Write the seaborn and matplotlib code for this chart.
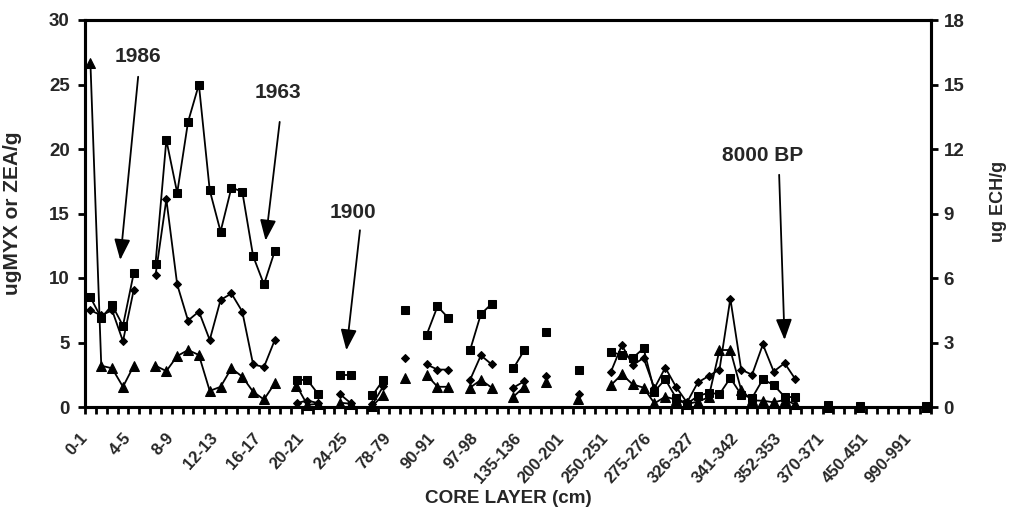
import matplotlib
matplotlib.use('Agg')
import numpy as np
import pandas as pd
import matplotlib.pyplot as plt
import seaborn as sns

nan = np.nan

# core layers (cm), only every 4th layer is labelled on the axis
layer_labels = ['0-1', '4-5', '8-9', '12-13', '16-17', '20-21', '24-25', '78-79',
                '90-91', '97-98', '135-136', '200-201', '250-251', '275-276',
                '326-327', '341-342', '352-353', '370-371', '450-451', '990-991']
n_layers = 78

# ug/g, left axis (squares)
myx = [8.5, 6.9, 7.9, 6.3, 10.4, nan, 11.1, 20.7, 16.6, 22.1,
       25.0, 16.8, 13.6, 17.0, 16.7, 11.7, 9.5, 12.1, nan, 2.1,
       2.1, 1.0, nan, 2.5, 2.5, nan, 0.9, 2.1, nan, 7.5,
       nan, 5.6, 7.8, 6.9, nan, 4.4, 7.2, 8.0, nan, 3.0,
       4.4, nan, 5.8, nan, nan, 2.9, nan, nan, 4.3, 4.0,
       3.8, 4.55, 1.2, 2.15, 0.7, 0.25, 0.85, 1.1, 1.0, 2.25,
       0.95, 0.7, 2.15, 1.7, 0.8, 0.75, nan, nan, 0.15, nan,
       nan, 0.05, nan, nan, nan, nan, nan, 0.05]

# ug/g, left axis (diamonds)
zea = [7.5, 7.1, 7.5, 5.1, 9.1, nan, 10.2, 16.1, 9.5, 6.7,
       7.4, 5.2, 8.3, 8.8, 7.4, 3.3, 3.1, 5.2, nan, 0.3,
       0.5, 0.3, nan, 1.0, 0.3, nan, 0.2, 1.6, nan, 3.8,
       nan, 3.3, 2.9, 2.9, nan, 2.1, 4.0, 3.3, nan, 1.5,
       2.0, nan, 2.4, nan, nan, 1.0, nan, nan, 2.75, 4.8,
       3.25, 3.8, 1.45, 3.05, 1.55, 0.35, 1.9, 2.4, 2.9, 8.4,
       2.9, 2.5, 4.85, 2.75, 3.4, 2.15, nan, nan, 0.0, nan,
       nan, 0.0, nan, nan, nan, nan, nan, 0.0]

# ug/g, right axis (triangles)
ech = [16.0, 1.92, 1.8, 0.94, 1.92, nan, 1.92, 1.67, 2.37, 2.65,
       2.42, 0.75, 0.94, 1.8, 1.41, 0.71, 0.35, 1.1, nan, 1.0,
       0.1, 0.15, nan, 0.2, 0.15, nan, 0.05, 0.56, nan, 1.33,
       nan, 1.49, 0.94, 0.94, nan, 0.9, 1.26, 0.9, nan, 0.48,
       0.94, nan, 1.15, nan, nan, 0.35, nan, nan, 1.02, 1.52,
       1.05, 0.9, 0.17, 0.48, 0.34, 0.14, 0.25, 0.45, 2.65, 2.65,
       0.79, 0.31, 0.29, 0.22, 0.33, 0.12, nan, nan, 0.0, nan,
       nan, 0.0, nan, nan, nan, nan, nan, 0.0]


def to_frame(values):
    # split the series at gaps so each run is drawn as its own line
    s = pd.Series(values, dtype=float)
    df = pd.DataFrame({'pos': np.arange(len(s)), 'value': s, 'seg': s.isna().cumsum()})
    return df.dropna()


sns.set_style('ticks')
plt.rcParams['font.family'] = ['Liberation Sans', 'DejaVu Sans']
plt.rcParams['font.weight'] = 'bold'

fig = plt.figure(figsize=(10.16, 5.22), dpi=100)
ax = fig.add_axes([85 / 1016, 1 - 407 / 522, 846 / 1016, 387 / 522])
ax2 = ax.twinx()

line_kw = dict(units='seg', estimator=None, sort=False, color='black', linewidth=1.3,
               markeredgecolor='black', markerfacecolor='black', clip_on=False, legend=False)
sns.lineplot(data=to_frame(myx), x='pos', y='value', ax=ax, marker='s', markersize=6, **line_kw)
sns.lineplot(data=to_frame(zea), x='pos', y='value', ax=ax, marker='D', markersize=4.5, **line_kw)
sns.lineplot(data=to_frame(ech), x='pos', y='value', ax=ax2, marker='^', markersize=6.5, **line_kw)

ax.set_xlim(-0.5, n_layers - 0.5)
ax.set_ylim(0, 30)
ax2.set_ylim(0, 18)
ax.set_yticks(np.arange(0, 31, 5))
ax2.set_yticks(np.arange(0, 19, 3))

ax.set_xticks(np.arange(0, n_layers, 4))
ax.set_xticklabels(layer_labels, rotation=48, ha='right', va='top', fontsize=12, fontweight='bold')
ax.set_xticks(np.arange(-0.5, n_layers, 1), minor=True)
ax.tick_params(axis='x', which='major', length=0, pad=17)
ax.tick_params(axis='x', which='minor', length=5, width=2, direction='out', color='black')
ax.tick_params(axis='y', length=5, width=2, direction='out', labelsize=13.5, pad=6, color='black')
ax2.tick_params(axis='y', length=5, width=2, direction='out', labelsize=13.5, pad=4, color='black')
for t in ax.get_yticklabels() + ax2.get_yticklabels():
    t.set_fontweight('bold')

for a in (ax, ax2):
    for sp in a.spines.values():
        sp.set_linewidth(2.2)
        sp.set_color('black')

ax.set_xlabel('CORE LAYER (cm)', fontsize=13.6, fontweight='bold', labelpad=3)
ax.set_ylabel('ugMYX or ZEA/g', fontsize=15, fontweight='bold')
ax.yaxis.set_label_coords(-0.075, 0.5)
ax2.set_ylabel('ug ECH/g', fontsize=13, fontweight='bold', rotation=90)
ax2.yaxis.set_label_coords(1.07, 0.53)

arrow = dict(arrowstyle='-|>,head_length=0.9,head_width=0.35', color='black', lw=1.3,
             mutation_scale=14, shrinkA=0, shrinkB=0)
notes = [('1986', (4.35, 27.2), (4.4, 25.6), (2.75, 11.4)),
         ('1963', (17.3, 24.4), (17.45, 22.1), (16.15, 12.9)),
         ('1900', (24.2, 15.1), (24.85, 13.7), (23.6, 4.4)),
         ('8000 BP', (62.0, 19.5), (63.5, 18.0), (64.0, 5.2))]
for label, txt, tail, tip in notes:
    ax.text(txt[0], txt[1], label, ha='center', va='center', fontsize=15, fontweight='bold')
    ax.annotate('', xy=tip, xytext=tail, arrowprops=arrow)

fig.savefig('out.png', dpi=100)
